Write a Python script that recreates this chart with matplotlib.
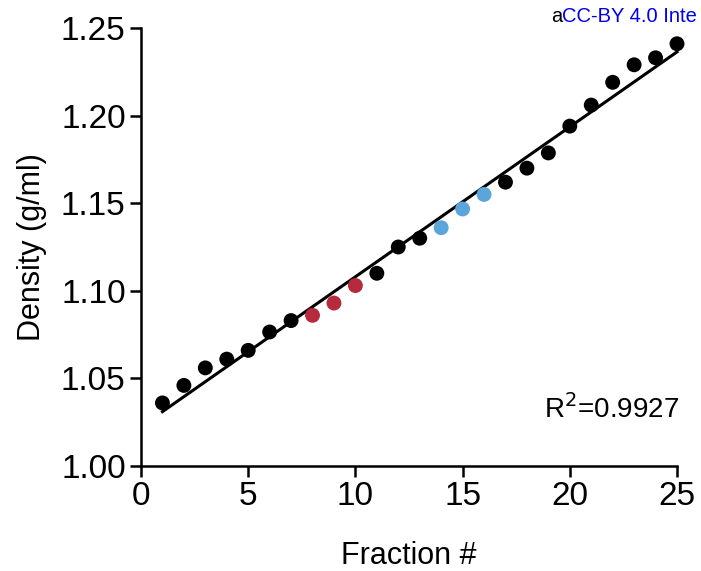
import numpy as np
import matplotlib
matplotlib.use("Agg")
import matplotlib.pyplot as plt

plt.rcParams['font.family'] = ['Liberation Sans', 'DejaVu Sans']

fraction = np.arange(1, 26)
density = [1.036, 1.046, 1.056, 1.061, 1.066, 1.0765, 1.083, 1.086, 1.093, 1.103,
           1.110, 1.125, 1.130, 1.136, 1.1467, 1.155, 1.162, 1.170, 1.1787, 1.194,
           1.206, 1.219, 1.229, 1.233, 1.241]
group = ['k'] * 7 + ['r'] * 3 + ['k'] * 3 + ['b'] * 3 + ['k'] * 9
colors = {'k': '#000000', 'r': '#B52A3C', 'b': '#5AA5DA'}
r2_label = "R$^2$=0.9927"
xticks = [0, 5, 10, 15, 20, 25]
yticks = [1.00, 1.05, 1.10, 1.15, 1.20, 1.25]

fig = plt.figure(figsize=(7.01, 5.71), dpi=100)
ax = fig.add_axes([141/701, 1-466/571, (677-141)/701, (466-28)/571])

x = np.asarray(fraction, dtype=float)
y = np.asarray(density)
m, c = np.polyfit(x, y, 1)
ax.plot([x.min(), x.max()], [m*x.min()+c, m*x.max()+c], color='black', lw=2.2, zorder=2,
        clip_on=False)

for g in ['k', 'r', 'b']:
    idx = [i for i, gg in enumerate(group) if gg == g]
    ax.scatter(x[idx], y[idx], s=115, color=colors[g], edgecolors='none', zorder=3, clip_on=False)

ax.set_xlim(0, 25)
ax.set_ylim(1.00, 1.25)
ax.set_xticks(xticks)
ax.set_yticks(yticks)
ax.set_yticklabels([f"{v:.2f}" for v in yticks])
for s in ['top', 'right']:
    ax.spines[s].set_visible(False)
for s in ['left', 'bottom']:
    ax.spines[s].set_linewidth(1.8)
ax.tick_params(axis='both', direction='out', length=8, width=1.8, labelsize=24, pad=3)
ax.set_xlabel("Fraction #", fontsize=22, labelpad=21)
ax.set_ylabel("Density (g/ml)", fontsize=22, labelpad=10)
ax.text(1.004, 0.13, r2_label, transform=ax.transAxes, ha='right', va='center', fontsize=20)

fig.text(551/701, 1-16/571, "a", color='black', fontsize=14.5, ha='left', va='center')
fig.text(562/701, 1-16/571, "CC-BY 4.0 Inte", color='#0000EE', fontsize=14.5,
         ha='left', va='center')

fig.savefig("out.png", dpi=100)
